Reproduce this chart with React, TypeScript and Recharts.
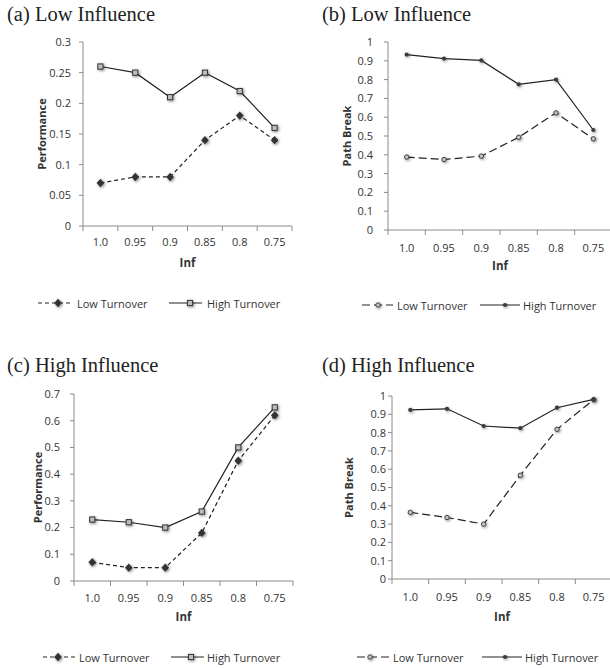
import React from "react";
import { Line, LineChart, XAxis, YAxis } from "recharts";

const categories = ["1.0", "0.95", "0.9", "0.85", "0.8", "0.75"];

const lowTurnoverA = [0.07, 0.08, 0.08, 0.14, 0.18, 0.14];
const highTurnoverA = [0.26, 0.25, 0.21, 0.25, 0.22, 0.16];
const lowTurnoverB = [0.388, 0.375, 0.393, 0.493, 0.623, 0.485];
const highTurnoverB = [0.933, 0.912, 0.902, 0.775, 0.8, 0.532];
const lowTurnoverC = [0.07, 0.05, 0.05, 0.18, 0.45, 0.62];
const highTurnoverC = [0.23, 0.22, 0.2, 0.26, 0.5, 0.65];
const lowTurnoverD = [0.364, 0.336, 0.3, 0.567, 0.818, 0.98];
const highTurnoverD = [0.924, 0.93, 0.836, 0.824, 0.936, 0.982];

const perfTicksA = [0, 0.05, 0.1, 0.15, 0.2, 0.25, 0.3];
const perfTicksC = [0, 0.1, 0.2, 0.3, 0.4, 0.5, 0.6, 0.7];
const breakTicks = [0, 0.1, 0.2, 0.3, 0.4, 0.5, 0.6, 0.7, 0.8, 0.9, 1];

const seriesNames = { low: "Low Turnover", high: "High Turnover" };

const FONT = "'Open Sans', sans-serif";
const AXIS = "#8a8a8a";
const INK = "#222";
const TEXT = "#333";

const toRows = (low: number[], high: number[]) =>
  categories.map((inf, i) => ({ inf, low: low[i], high: high[i] }));

// markers -------------------------------------------------------------
const Marker = ({ kind, cx, cy }: { kind: string; cx: number; cy: number }) => {
  if (kind === "diamond")
    return (
      <path
        d={`M${cx},${cy - 4.2}L${cx + 3.8},${cy}L${cx},${cy + 4.2}L${cx - 3.8},${cy}Z`}
        fill="#333"
        filter="url(#mkShadow)"
      />
    );
  if (kind === "square")
    return (
      <rect x={cx - 2.6} y={cy - 2.6} width={5.2} height={5.2} fill="#bdbdbd" stroke="#333" strokeWidth={1} filter="url(#mkShadow)" />
    );
  if (kind === "ring")
    return <circle cx={cx} cy={cy} r={2.2} fill="#c4c4c4" stroke="#333" strokeWidth={0.9} filter="url(#mkShadow)" />;
  return <circle cx={cx} cy={cy} r={2.1} fill="#3a3a3a" filter="url(#mkShadow)" />;
};

const dotOf = (kind: string) => (p: any) =>
  <Marker key={`${kind}-${p.index}`} kind={kind} cx={p.cx} cy={p.cy} />;

// axis pieces ---------------------------------------------------------
const CatTick = (props: any) => {
  const { x, y, payload, index, band, gap } = props;
  const axisY = y - gap;
  const last = index === categories.length - 1;
  return (
    <g>
      <line x1={x - band / 2} x2={x - band / 2} y1={axisY} y2={axisY + 5} stroke={AXIS} />
      {last && <line x1={x + band / 2} x2={x + band / 2} y1={axisY} y2={axisY + 5} stroke={AXIS} />}
      <text x={x} y={y} dy="0.71em" textAnchor="middle" fontSize={11} fill={TEXT} fontFamily={FONT}>
        {payload.value}
      </text>
    </g>
  );
};

const YTitle = (props: any) => {
  const { viewBox, text, x } = props;
  const cy = viewBox.y + viewBox.height / 2;
  return (
    <text
      x={x}
      y={cy}
      transform={`rotate(-90, ${x}, ${cy})`}
      textAnchor="middle"
      dominantBaseline="central"
      fontSize={11}
      fontWeight="bold"
      fill={TEXT}
      fontFamily={FONT}
    >
      {text}
    </text>
  );
};

const XTitle = (props: any) => {
  const { viewBox, dy } = props;
  return (
    <text
      x={viewBox.x + viewBox.width / 2}
      y={viewBox.y + dy}
      textAnchor="middle"
      fontSize={11.5}
      fontWeight="bold"
      fill={TEXT}
      fontFamily={FONT}
    >
      Inf
    </text>
  );
};

// legend --------------------------------------------------------------
type LegendItem = { x1: number; x2: number; mx: number; tx: number; dash?: string; marker: string; name: string };

const PanelLegend = ({ y, items }: { y: number; items: LegendItem[] }) => (
  <svg style={{ position: "absolute", left: 0, top: y - 8 }} width={610} height={16}>
    {items.map((it) => (
      <g key={it.name}>
        <line x1={it.x1} x2={it.x2} y1={8} y2={8} stroke={INK} strokeWidth={1.2} strokeDasharray={it.dash} />
        <Marker kind={it.marker} cx={it.mx} cy={8} />
        <text x={it.tx} y={8} dominantBaseline="central" fontSize={11} fill={TEXT} fontFamily={FONT}>
          {it.name}
        </text>
      </g>
    ))}
  </svg>
);

// panels --------------------------------------------------------------
const panels = [
  {
    id: "a",
    title: "(a) Low Influence",
    titleX: 7,
    titleY: 21,
    left: 0,
    top: 0,
    width: 300,
    height: 280,
    margin: { top: 42, right: 8, left: 0, bottom: 4 },
    yWidth: 83,
    yMax: 0.3,
    yTicks: perfTicksA,
    yTickMargin: 8,
    yLabel: "Performance",
    yLabelX: 37,
    xGap: 12,
    infDy: 41,
    low: lowTurnoverA,
    high: highTurnoverA,
    lowMarker: "diamond",
    highMarker: "square",
    dash: "4 3",
    legendY: 303,
    legend: [
      { x1: 38, x2: 73, mx: 58, tx: 77 },
      { x1: 169, x2: 202, mx: 190, tx: 207 },
    ],
  },
  {
    id: "b",
    title: "(b) Low Influence",
    titleX: 322,
    titleY: 21,
    left: 305,
    top: 0,
    width: 308,
    height: 284,
    margin: { top: 42, right: 1, left: 0, bottom: 4 },
    yWidth: 83,
    yMax: 1,
    yTicks: breakTicks,
    yTickMargin: 11,
    yLabel: "Path Break",
    yLabelX: 47,
    xGap: 14,
    infDy: 40,
    low: lowTurnoverB,
    high: highTurnoverB,
    lowMarker: "ring",
    highMarker: "dot",
    dash: "8 4",
    legendY: 305,
    legend: [
      { x1: 362, x2: 393, mx: 378, tx: 397 },
      { x1: 480, x2: 520, mx: 505, tx: 523 },
    ],
  },
  {
    id: "c",
    title: "(c) High Influence",
    titleX: 7,
    titleY: 372,
    left: 0,
    top: 330,
    width: 300,
    height: 305,
    margin: { top: 64, right: 7, left: 0, bottom: 4 },
    yWidth: 74,
    yMax: 0.7,
    yTicks: perfTicksC,
    yTickMargin: 10,
    yLabel: "Performance",
    yLabelX: 35,
    xGap: 13,
    infDy: 40,
    low: lowTurnoverC,
    high: highTurnoverC,
    lowMarker: "diamond",
    highMarker: "square",
    dash: "4 3",
    legendY: 657,
    legend: [
      { x1: 43, x2: 77, mx: 58, tx: 79 },
      { x1: 171, x2: 204, mx: 191, tx: 207 },
    ],
  },
  {
    id: "d",
    title: "(d) High Influence",
    titleX: 322,
    titleY: 372,
    left: 305,
    top: 330,
    width: 308,
    height: 303,
    margin: { top: 66, right: 1, left: 0, bottom: 4 },
    yWidth: 87,
    yMax: 1,
    yTicks: breakTicks,
    yTickMargin: 2,
    yLabel: "Path Break",
    yLabelX: 47,
    xGap: 14,
    infDy: 42,
    low: lowTurnoverD,
    high: highTurnoverD,
    lowMarker: "ring",
    highMarker: "dot",
    dash: "8 4",
    legendY: 657,
    legend: [
      { x1: 357, x2: 390, mx: 370, tx: 393 },
      { x1: 482, x2: 522, mx: 505, tx: 525 },
    ],
  },
];

const Panel = ({ p }: { p: (typeof panels)[number] }) => {
  const plotW = p.width - p.margin.left - p.margin.right - p.yWidth;
  const band = plotW / categories.length;
  return (
    <div style={{ position: "absolute", left: p.left, top: p.top }}>
      <LineChart width={p.width} height={p.height} data={toRows(p.low, p.high)} margin={p.margin}>
        <XAxis
          dataKey="inf"
          scale="band"
          height={50}
          stroke={AXIS}
          tickLine={false}
          tickSize={0}
          tickMargin={p.xGap}
          interval={0}
          tick={<CatTick band={band} gap={p.xGap} />}
          label={<XTitle dy={p.infDy} />}
        />
        <YAxis
          width={p.yWidth}
          domain={[0, p.yMax]}
          ticks={p.yTicks}
          interval={0}
          stroke={AXIS}
          tickSize={4}
          tickMargin={p.yTickMargin}
          tick={{ fontSize: 11, fill: TEXT, fontFamily: FONT }}
          label={<YTitle text={p.yLabel} x={p.yLabelX} />}
        />
        <Line
          type="linear"
          dataKey="low"
          name={seriesNames.low}
          stroke={INK}
          strokeWidth={1.2}
          strokeDasharray={p.dash}
          dot={dotOf(p.lowMarker)}
          activeDot={false}
          isAnimationActive={false}
        />
        <Line
          type="linear"
          dataKey="high"
          name={seriesNames.high}
          stroke={INK}
          strokeWidth={1.2}
          dot={dotOf(p.highMarker)}
          activeDot={false}
          isAnimationActive={false}
        />
      </LineChart>
      <svg style={{ position: "absolute", left: p.titleX - p.left, top: p.titleY - p.top - 20 }} width={200} height={28}>
        <text x={0} y={20} fontSize={20.5} fill={INK} fontFamily="'Liberation Serif', 'Times New Roman', serif">
          {p.title}
        </text>
      </svg>
    </div>
  );
};

export default function App() {
  return (
    <div
      style={{
        position: "absolute",
        left: 0,
        top: 0,
        width: 610,
        height: 668,
        overflow: "hidden",
        background: "#fff",
      }}
    >
      <svg width={0} height={0} style={{ position: "absolute" }}>
        <defs>
          <filter id="mkShadow" x="-150%" y="-150%" width="400%" height="400%">
            <feGaussianBlur in="SourceAlpha" stdDeviation="1.7" />
            <feOffset dx="0.6" dy="1.2" result="blur" />
            <feFlood floodColor="#000" floodOpacity="0.5" />
            <feComposite in2="blur" operator="in" />
            <feMerge>
              <feMergeNode />
              <feMergeNode in="SourceGraphic" />
            </feMerge>
          </filter>
        </defs>
      </svg>
      {panels.map((p) => (
        <Panel key={p.id} p={p} />
      ))}
      {panels.map((p) => (
        <PanelLegend
          key={`lg-${p.id}`}
          y={p.legendY}
          items={[
            { ...p.legend[0], dash: p.dash, marker: p.lowMarker, name: seriesNames.low },
            { ...p.legend[1], marker: p.highMarker, name: seriesNames.high },
          ]}
        />
      ))}
    </div>
  );
}
